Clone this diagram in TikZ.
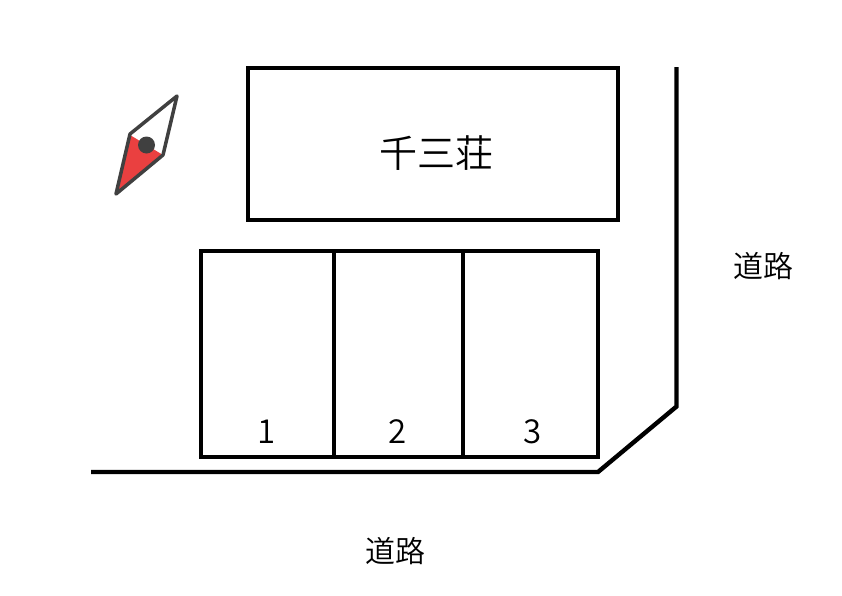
\documentclass[tikz,border=0pt]{standalone}
\usepackage{fontspec}
\setmainfont{Noto Sans CJK JP DemiLight}
\definecolor{compassgray}{HTML}{404040}
\definecolor{compassred}{HTML}{EA4040}
\tikzset{
  wall/.style={draw=black,line width=4.4pt,miter limit=10},
  lbl/.style={inner sep=0pt,text=black},
  road/.style={lbl,font=\fontsize{30}{30}\selectfont},
  num/.style={lbl,font=\fontsize{33}{33}\selectfont},
}
\begin{document}
\begin{tikzpicture}[x=1pt,y=-1pt]
\useasboundingbox (0,0) rectangle (842,595);
\fill[white] (0,0) rectangle (842,595);
% building
\draw[wall] (248,68) rectangle (618,220);
\node[lbl,font=\fontsize{38}{38}\selectfont] (name) at (436.5,153) {千三荘};
% parking
\draw[wall] (201,251) rectangle (598,457);
\draw[wall] (334,251) -- (334,457);
\draw[wall] (463,251) -- (463,457);
\node[num] (n1) at (266.5,431.5) {1};
\node[num] (n2) at (398,431.5) {2};
\node[num] (n3) at (532.5,431.5) {3};
% roads
\draw[wall] (91,472) -- (598,472) -- (676.5,406.5) -- (676.5,67);
\node[road] (r1) at (763,266) {道路};
\node[road] (r2) at (395,551) {道路};
% compass
\fill[compassred] (130,135) -- (116,194) -- (163,155) -- cycle;
\draw[compassgray,line width=3.5pt,line join=round] (177,96) -- (130,134) -- (116,194) -- (163,155) -- cycle;
\fill[compassgray] (146.5,145) circle (8.5);
\end{tikzpicture}
\end{document}
